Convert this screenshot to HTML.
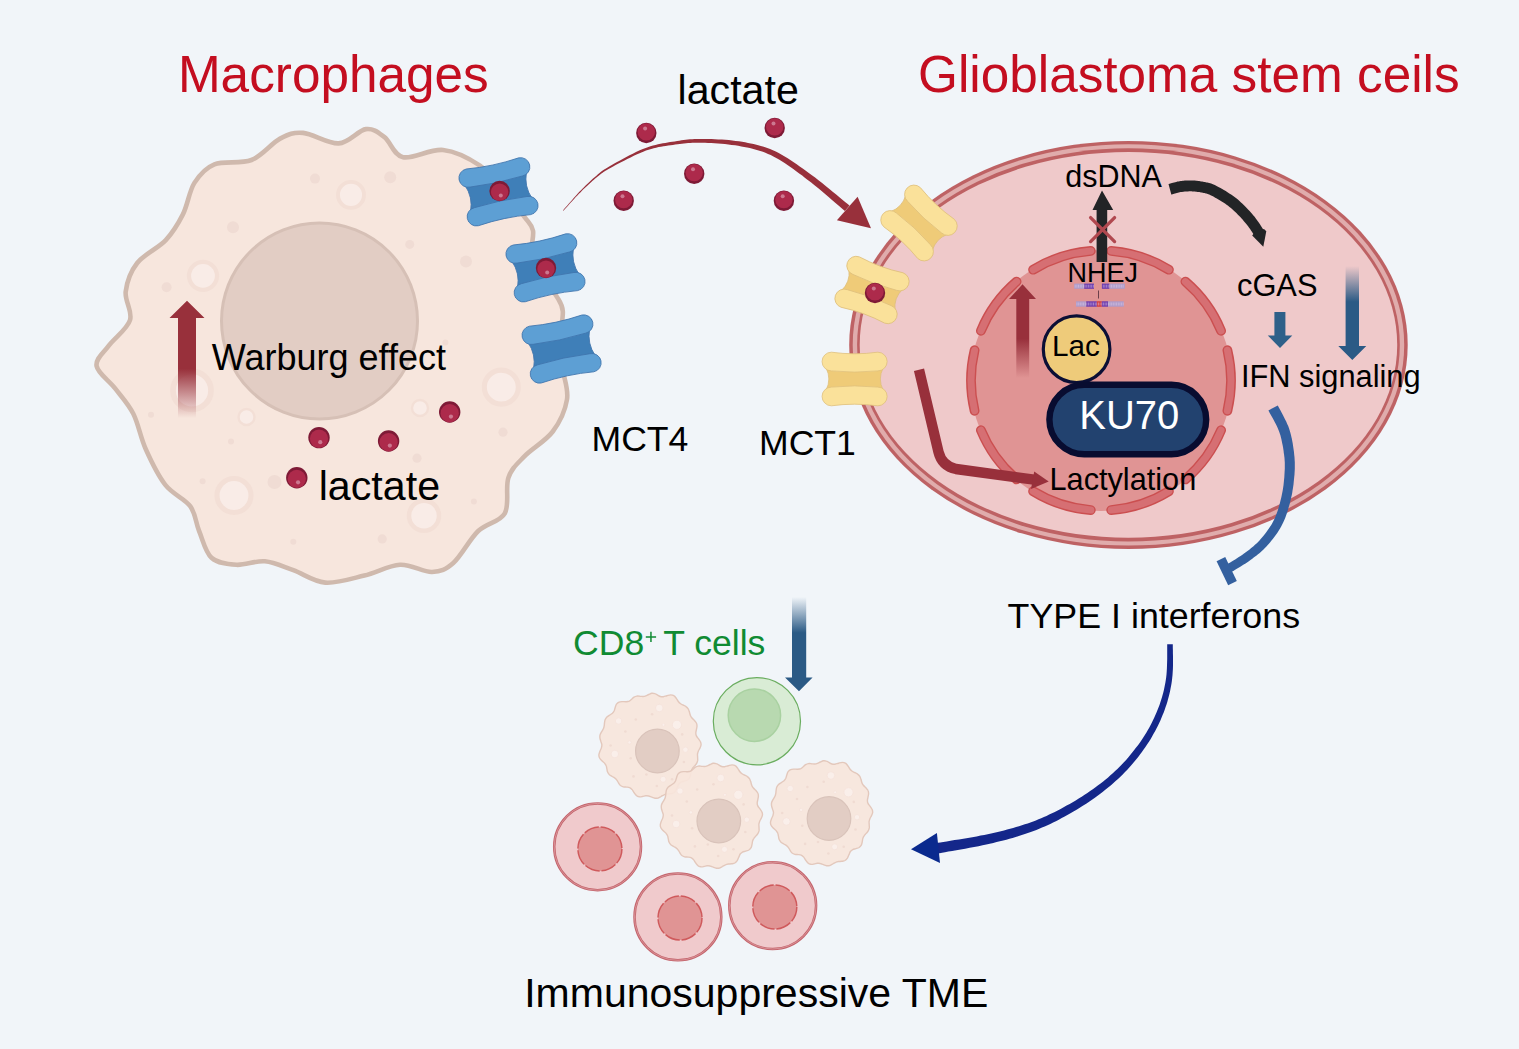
<!DOCTYPE html>
<html><head><meta charset="utf-8"><title>Diagram</title>
<style>
html,body{margin:0;padding:0;background:#f1f5f9;}
body{width:1519px;height:1049px;overflow:hidden;font-family:"Liberation Sans",sans-serif;}
svg{display:block}
svg text{font-family:"Liberation Sans",sans-serif;}
</style></head><body>
<svg width="1519" height="1049" viewBox="0 0 1519 1049">
<rect width="1519" height="1049" fill="#f1f5f9"/>

<defs>
<linearGradient id="gRedUp" x1="0" y1="0" x2="0" y2="1">
<stop offset="0" stop-color="#98303b"/><stop offset="0.58" stop-color="#98303b"/><stop offset="1" stop-color="#98303b" stop-opacity="0"/>
</linearGradient>
<linearGradient id="gBlueDn" x1="0" y1="0" x2="0" y2="1">
<stop offset="0" stop-color="#2b5a85" stop-opacity="0"/><stop offset="0.38" stop-color="#2b5a85"/><stop offset="1" stop-color="#2b5a85"/>
</linearGradient>
</defs>
<path d="M96.6,366.0 C95.4,358.8 103.0,353.5 108.6,345.9 C114.2,338.2 127.2,329.2 130.0,320.1 C132.8,311.1 124.5,301.1 125.7,291.6 C126.9,282.1 130.5,271.6 137.2,263.0 C143.9,254.4 158.2,248.2 165.8,240.1 C173.4,232.0 178.1,223.9 182.9,214.4 C187.7,204.9 189.2,191.2 194.4,182.9 C199.7,174.6 204.9,168.1 214.4,164.3 C223.9,160.5 240.6,164.3 251.5,160.0 C262.4,155.7 271.5,143.1 280.1,138.6 C288.7,134.1 293.2,132.1 303.0,132.9 C312.8,133.7 328.2,144.0 338.7,143.4 C349.2,142.8 358.3,130.1 365.9,129.1 C373.5,128.1 378.3,132.5 384.5,137.2 C390.7,141.9 393.3,155.1 403.1,157.2 C412.9,159.3 430.3,148.6 443.1,150.0 C455.9,151.4 469.7,158.7 480.0,165.7 C490.3,172.7 497.6,183.5 505.0,192.0 C512.4,200.5 519.7,210.5 524.4,216.9 C529.1,223.3 531.7,224.2 533.0,230.6 C534.3,236.9 530.0,246.8 532.0,255.0 C534.0,263.2 540.9,273.1 545.0,280.0 C549.1,286.9 553.6,291.1 556.6,296.3 C559.6,301.5 562.2,303.9 562.8,311.2 C563.4,318.5 560.0,330.2 560.0,340.0 C560.0,349.8 561.8,360.1 563.0,370.0 C564.2,379.9 568.7,389.2 567.0,399.5 C565.3,409.8 559.9,422.0 552.8,431.5 C545.7,441.0 531.8,448.7 524.4,456.4 C517.0,464.1 511.7,468.2 508.4,477.7 C505.1,487.2 509.8,504.4 504.8,513.3 C499.8,522.2 486.8,522.7 478.2,531.0 C469.6,539.3 461.0,556.2 453.3,563.0 C445.6,569.8 440.9,571.7 432.0,572.0 C423.1,572.3 411.3,564.2 400.0,564.8 C388.7,565.4 376.8,572.5 364.4,575.5 C351.9,578.5 337.1,583.5 325.3,582.6 C313.5,581.7 303.4,573.8 293.3,570.2 C283.2,566.7 274.4,562.2 264.9,561.3 C255.4,560.4 245.3,565.4 236.4,564.8 C227.5,564.2 217.7,563.3 211.5,557.7 C205.3,552.1 202.7,539.6 199.1,531.0 C195.5,522.4 195.8,513.9 190.2,506.2 C184.6,498.5 172.7,494.4 165.3,484.9 C157.9,475.4 151.1,461.1 145.8,449.3 C140.5,437.5 138.4,423.9 133.3,413.8 C128.2,403.7 121.6,396.9 115.5,388.9 C109.4,380.9 97.8,373.2 96.6,366.0 Z" fill="#f7e6dd" stroke="#cfb9ad" stroke-width="4.6" stroke-linejoin="round"/>
<circle cx="351.0" cy="194.9" r="13.0" fill="#f9ece7" stroke="#f3dfd6" stroke-width="3.9"/>
<circle cx="203.0" cy="275.8" r="14.0" fill="#f9ece7" stroke="#f3dfd6" stroke-width="4.2"/>
<circle cx="192.0" cy="390.4" r="19.0" fill="#f9ece7" stroke="#f3dfd6" stroke-width="5.7"/>
<circle cx="420.0" cy="408.0" r="8.0" fill="#f9ece7" stroke="#f3dfd6" stroke-width="2.4"/>
<circle cx="246.5" cy="417.0" r="8.0" fill="#f9ece7" stroke="#f3dfd6" stroke-width="2.4"/>
<circle cx="501.3" cy="387.1" r="17.0" fill="#f9ece7" stroke="#f3dfd6" stroke-width="5.1"/>
<circle cx="234.0" cy="495.5" r="17.0" fill="#f9ece7" stroke="#f3dfd6" stroke-width="5.1"/>
<circle cx="424.0" cy="515.8" r="15.0" fill="#f9ece7" stroke="#f3dfd6" stroke-width="4.5"/>
<circle cx="315.0" cy="178.6" r="5.0" fill="#f0dcd4"/>
<circle cx="390.2" cy="177.2" r="6.0" fill="#f0dcd4"/>
<circle cx="233.0" cy="227.2" r="6.0" fill="#f0dcd4"/>
<circle cx="409.7" cy="244.4" r="4.5" fill="#f0dcd4"/>
<circle cx="466.0" cy="261.5" r="6.0" fill="#f0dcd4"/>
<circle cx="166.6" cy="287.3" r="5.0" fill="#f0dcd4"/>
<circle cx="445.4" cy="342.4" r="3.0" fill="#f0dcd4"/>
<circle cx="151.0" cy="414.8" r="3.0" fill="#f0dcd4"/>
<circle cx="231.0" cy="441.5" r="3.0" fill="#f0dcd4"/>
<circle cx="202.6" cy="481.3" r="3.0" fill="#f0dcd4"/>
<circle cx="274.5" cy="482.0" r="7.0" fill="#f0dcd4"/>
<circle cx="417.0" cy="458.2" r="4.6" fill="#f0dcd4"/>
<circle cx="503.0" cy="432.2" r="4.6" fill="#f0dcd4"/>
<circle cx="473.9" cy="501.6" r="3.0" fill="#f0dcd4"/>
<circle cx="382.2" cy="538.9" r="4.6" fill="#f0dcd4"/>
<circle cx="293.3" cy="541.7" r="3.0" fill="#f0dcd4"/>
<circle cx="319.5" cy="321" r="98" fill="#e2cdc4" stroke="#d6c0b6" stroke-width="3"/>
<ellipse cx="1128.45" cy="344.9" rx="279.25" ry="204.0" fill="#be6264"/>
<ellipse cx="1128.45" cy="344.9" rx="275.75" ry="200.7" fill="#e0acac"/>
<ellipse cx="1128.45" cy="344.9" rx="271.35" ry="196.55" fill="#be6264"/>
<ellipse cx="1128.45" cy="344.9" rx="268.75" ry="192.8" fill="#efc9ca"/>
<circle cx="1101" cy="380.5" r="130.5" fill="#e09494"/>
<path d="M1090.8,250.9 A130.0,130.0 0 0 0 1033.1,269.7 M1016.6,281.6 A130.0,130.0 0 0 0 980.9,330.8 M974.6,350.2 A130.0,130.0 0 0 0 974.6,410.8 M980.9,430.2 A130.0,130.0 0 0 0 1016.6,479.4 M1033.1,491.3 A130.0,130.0 0 0 0 1090.8,510.1 M1111.2,510.1 A130.0,130.0 0 0 0 1168.9,491.3 M1185.4,479.4 A130.0,130.0 0 0 0 1221.1,430.2 M1227.4,410.8 A130.0,130.0 0 0 0 1227.4,350.2 M1221.1,330.8 A130.0,130.0 0 0 0 1185.4,281.6 M1168.9,269.7 A130.0,130.0 0 0 0 1111.2,250.9" fill="none" stroke="#cb4f50" stroke-width="9.8" stroke-linecap="round"/>
<path d="M1090.8,250.9 A130.0,130.0 0 0 0 1033.1,269.7 M1016.6,281.6 A130.0,130.0 0 0 0 980.9,330.8 M974.6,350.2 A130.0,130.0 0 0 0 974.6,410.8 M980.9,430.2 A130.0,130.0 0 0 0 1016.6,479.4 M1033.1,491.3 A130.0,130.0 0 0 0 1090.8,510.1 M1111.2,510.1 A130.0,130.0 0 0 0 1168.9,491.3 M1185.4,479.4 A130.0,130.0 0 0 0 1221.1,430.2 M1227.4,410.8 A130.0,130.0 0 0 0 1227.4,350.2 M1221.1,330.8 A130.0,130.0 0 0 0 1185.4,281.6 M1168.9,269.7 A130.0,130.0 0 0 0 1111.2,250.9" fill="none" stroke="#d66f73" stroke-width="7" stroke-linecap="round"/>
<path d="M187,300.7 L204.5,318 L196,318 L196,418 L178,418 L178,318 L169.5,318 Z" fill="url(#gRedUp)"/>
<g transform="translate(449.7,412.0) rotate(180) scale(1.05)"><circle r="10.2" fill="#7e1a36"/><circle cx="0" cy="-1.1" r="8.7" fill="#ad2a4b"/><circle cx="-1.2" cy="-4.4" r="2" fill="#cc7890"/></g>
<g transform="translate(319.0,437.6) rotate(180) scale(1.05)"><circle r="10.2" fill="#7e1a36"/><circle cx="0" cy="-1.1" r="8.7" fill="#ad2a4b"/><circle cx="-1.2" cy="-4.4" r="2" fill="#cc7890"/></g>
<g transform="translate(388.6,441.0) rotate(180) scale(1.05)"><circle r="10.2" fill="#7e1a36"/><circle cx="0" cy="-1.1" r="8.7" fill="#ad2a4b"/><circle cx="-1.2" cy="-4.4" r="2" fill="#cc7890"/></g>
<g transform="translate(296.8,477.7) rotate(180) scale(1.05)"><circle r="10.2" fill="#7e1a36"/><circle cx="0" cy="-1.1" r="8.7" fill="#ad2a4b"/><circle cx="-1.2" cy="-4.4" r="2" fill="#cc7890"/></g>
<g transform="translate(498.5,191.8) rotate(-12.0)"><path d="M-31.5,-13.5 Q-26.0,0 -31.5,13.5 L31.5,13.5 Q26.0,0 31.5,-13.5 Z" fill="#3f7fb8" stroke="#3f74ad" stroke-width="0.8"/><path d="M-26.8,-29.0 Q0,-25.8 26.8,-29.0 A9.2,9.2 0 0 1 26.8,-10.5 Q0,-8.1 -26.8,-10.5 A9.2,9.2 0 0 1 -26.8,-29.0 Z" fill="#5d9fd4" stroke="#3f74ad" stroke-width="0.8"/><path d="M-26.8,29.0 Q0,25.8 26.8,29.0 A9.2,9.2 0 0 0 26.8,10.5 Q0,8.1 -26.8,10.5 A9.2,9.2 0 0 0 -26.8,29.0 Z" fill="#5d9fd4" stroke="#3f74ad" stroke-width="0.8"/></g>
<g transform="translate(545.5,267.8) rotate(-12.0)"><path d="M-31.5,-13.5 Q-26.0,0 -31.5,13.5 L31.5,13.5 Q26.0,0 31.5,-13.5 Z" fill="#3f7fb8" stroke="#3f74ad" stroke-width="0.8"/><path d="M-26.8,-29.0 Q0,-25.8 26.8,-29.0 A9.2,9.2 0 0 1 26.8,-10.5 Q0,-8.1 -26.8,-10.5 A9.2,9.2 0 0 1 -26.8,-29.0 Z" fill="#5d9fd4" stroke="#3f74ad" stroke-width="0.8"/><path d="M-26.8,29.0 Q0,25.8 26.8,29.0 A9.2,9.2 0 0 0 26.8,10.5 Q0,8.1 -26.8,10.5 A9.2,9.2 0 0 0 -26.8,29.0 Z" fill="#5d9fd4" stroke="#3f74ad" stroke-width="0.8"/></g>
<g transform="translate(561.6,349.0) rotate(-12.0)"><path d="M-31.5,-13.5 Q-26.0,0 -31.5,13.5 L31.5,13.5 Q26.0,0 31.5,-13.5 Z" fill="#3f7fb8" stroke="#3f74ad" stroke-width="0.8"/><path d="M-26.8,-29.0 Q0,-25.8 26.8,-29.0 A9.2,9.2 0 0 1 26.8,-10.5 Q0,-8.1 -26.8,-10.5 A9.2,9.2 0 0 1 -26.8,-29.0 Z" fill="#5d9fd4" stroke="#3f74ad" stroke-width="0.8"/><path d="M-26.8,29.0 Q0,25.8 26.8,29.0 A9.2,9.2 0 0 0 26.8,10.5 Q0,8.1 -26.8,10.5 A9.2,9.2 0 0 0 -26.8,29.0 Z" fill="#5d9fd4" stroke="#3f74ad" stroke-width="0.8"/></g>
<g transform="translate(499.6,191.0) rotate(180) scale(1.00)"><circle r="10.2" fill="#7e1a36"/><circle cx="0" cy="-1.1" r="8.7" fill="#ad2a4b"/><circle cx="-1.2" cy="-4.4" r="2" fill="#cc7890"/></g>
<g transform="translate(546.0,268.0) rotate(180) scale(1.00)"><circle r="10.2" fill="#7e1a36"/><circle cx="0" cy="-1.1" r="8.7" fill="#ad2a4b"/><circle cx="-1.2" cy="-4.4" r="2" fill="#cc7890"/></g>
<g transform="translate(919.0,223.0) rotate(43.0)"><path d="M-28.5,-11.1 Q-23.0,0 -28.5,11.1 L28.5,11.1 Q23.0,0 28.5,-11.1 Z" fill="#efcb78" stroke="#dfc07c" stroke-width="0.8"/><path d="M-23.2,-26.8 Q0,-23.6 23.2,-26.8 A9.3,9.3 0 0 1 23.2,-8.1 Q0,-5.7 -23.2,-8.1 A9.3,9.3 0 0 1 -23.2,-26.8 Z" fill="#fae19a" stroke="#dfc07c" stroke-width="0.8"/><path d="M-23.2,26.8 Q0,23.6 23.2,26.8 A9.3,9.3 0 0 0 23.2,8.1 Q0,5.7 -23.2,8.1 A9.3,9.3 0 0 0 -23.2,26.8 Z" fill="#fae19a" stroke="#dfc07c" stroke-width="0.8"/></g>
<g transform="translate(872.0,290.0) rotate(20.0)"><path d="M-28.5,-11.1 Q-23.0,0 -28.5,11.1 L28.5,11.1 Q23.0,0 28.5,-11.1 Z" fill="#efcb78" stroke="#dfc07c" stroke-width="0.8"/><path d="M-23.2,-26.8 Q0,-23.6 23.2,-26.8 A9.3,9.3 0 0 1 23.2,-8.1 Q0,-5.7 -23.2,-8.1 A9.3,9.3 0 0 1 -23.2,-26.8 Z" fill="#fae19a" stroke="#dfc07c" stroke-width="0.8"/><path d="M-23.2,26.8 Q0,23.6 23.2,26.8 A9.3,9.3 0 0 0 23.2,8.1 Q0,5.7 -23.2,8.1 A9.3,9.3 0 0 0 -23.2,26.8 Z" fill="#fae19a" stroke="#dfc07c" stroke-width="0.8"/></g>
<g transform="translate(854.6,379.0) rotate(0.0)"><path d="M-28.5,-11.1 Q-23.0,0 -28.5,11.1 L28.5,11.1 Q23.0,0 28.5,-11.1 Z" fill="#efcb78" stroke="#dfc07c" stroke-width="0.8"/><path d="M-23.2,-26.8 Q0,-23.6 23.2,-26.8 A9.3,9.3 0 0 1 23.2,-8.1 Q0,-5.7 -23.2,-8.1 A9.3,9.3 0 0 1 -23.2,-26.8 Z" fill="#fae19a" stroke="#dfc07c" stroke-width="0.8"/><path d="M-23.2,26.8 Q0,23.6 23.2,26.8 A9.3,9.3 0 0 0 23.2,8.1 Q0,5.7 -23.2,8.1 A9.3,9.3 0 0 0 -23.2,26.8 Z" fill="#fae19a" stroke="#dfc07c" stroke-width="0.8"/></g>
<g transform="translate(875.0,293.0) rotate(0) scale(1.00)"><circle r="10.2" fill="#7e1a36"/><circle cx="0" cy="-1.1" r="8.7" fill="#ad2a4b"/><circle cx="-1.2" cy="-4.4" r="2" fill="#cc7890"/></g>
<g transform="translate(646.3,133.0) rotate(0) scale(1.00)"><circle r="10.2" fill="#7e1a36"/><circle cx="0" cy="-1.1" r="8.7" fill="#ad2a4b"/><circle cx="-1.2" cy="-4.4" r="2" fill="#cc7890"/></g>
<g transform="translate(774.7,128.0) rotate(0) scale(1.00)"><circle r="10.2" fill="#7e1a36"/><circle cx="0" cy="-1.1" r="8.7" fill="#ad2a4b"/><circle cx="-1.2" cy="-4.4" r="2" fill="#cc7890"/></g>
<g transform="translate(694.2,173.7) rotate(0) scale(1.00)"><circle r="10.2" fill="#7e1a36"/><circle cx="0" cy="-1.1" r="8.7" fill="#ad2a4b"/><circle cx="-1.2" cy="-4.4" r="2" fill="#cc7890"/></g>
<g transform="translate(623.7,200.7) rotate(0) scale(1.00)"><circle r="10.2" fill="#7e1a36"/><circle cx="0" cy="-1.1" r="8.7" fill="#ad2a4b"/><circle cx="-1.2" cy="-4.4" r="2" fill="#cc7890"/></g>
<g transform="translate(783.9,200.7) rotate(0) scale(1.00)"><circle r="10.2" fill="#7e1a36"/><circle cx="0" cy="-1.1" r="8.7" fill="#ad2a4b"/><circle cx="-1.2" cy="-4.4" r="2" fill="#cc7890"/></g>
<path d="M563.3,210.8 L564.1,209.9 L565.2,208.7 L566.4,207.4 L567.8,205.9 L569.2,204.2 L570.8,202.5 L572.5,200.7 L574.1,198.9 L575.8,197.1 L577.4,195.4 L578.9,193.8 L580.4,192.4 L581.7,191.0 L583.1,189.6 L584.5,188.3 L585.9,187.0 L587.3,185.7 L588.6,184.4 L590.0,183.2 L591.3,182.0 L592.6,180.8 L593.9,179.7 L595.2,178.6 L596.5,177.6 L597.7,176.6 L598.7,175.7 L599.6,174.9 L600.5,174.2 L601.4,173.5 L602.3,172.9 L603.2,172.2 L604.3,171.5 L605.5,170.7 L606.9,169.9 L608.5,169.0 L610.4,167.9 L612.7,166.7 L615.2,165.3 L618.0,163.8 L621.0,162.3 L624.1,160.7 L627.3,159.0 L630.6,157.4 L633.8,155.8 L637.1,154.3 L640.2,152.9 L643.2,151.7 L646.0,150.6 L648.6,149.7 L651.2,148.9 L653.7,148.3 L656.2,147.7 L658.6,147.1 L661.0,146.7 L663.4,146.3 L665.8,145.9 L668.2,145.6 L670.5,145.3 L672.9,144.9 L675.2,144.6 L677.6,144.3 L679.8,144.0 L681.9,143.7 L684.0,143.5 L686.1,143.2 L688.1,143.0 L690.2,142.9 L692.4,142.8 L694.7,142.7 L697.0,142.7 L699.5,142.7 L702.2,142.7 L705.0,142.8 L708.1,142.9 L711.3,143.1 L714.6,143.3 L718.0,143.5 L721.4,143.8 L724.9,144.1 L728.3,144.5 L731.7,144.9 L735.1,145.3 L738.2,145.8 L741.3,146.4 L744.2,147.0 L747.1,147.5 L749.8,148.1 L752.5,148.8 L755.1,149.4 L757.7,150.2 L760.3,151.0 L762.9,151.8 L765.4,152.8 L768.0,153.9 L770.7,155.1 L773.4,156.4 L776.2,157.9 L779.0,159.4 L781.8,161.2 L784.6,163.0 L787.5,164.9 L790.4,166.9 L793.3,169.0 L796.2,171.2 L799.2,173.4 L802.2,175.6 L805.1,177.9 L808.1,180.2 L811.2,182.6 L814.5,185.3 L818.0,188.1 L821.6,191.1 L825.1,194.1 L828.6,197.1 L832.0,200.0 L835.2,202.8 L838.2,205.3 L840.8,207.6 L843.1,209.5 L844.9,211.1 L849.5,205.5 L847.7,204.1 L845.4,202.2 L842.7,200.0 L839.7,197.5 L836.5,194.8 L833.0,191.9 L829.4,188.9 L825.7,186.0 L822.1,183.1 L818.5,180.3 L815.1,177.6 L811.9,175.2 L808.8,173.0 L805.8,170.8 L802.7,168.6 L799.7,166.4 L796.7,164.3 L793.7,162.2 L790.7,160.2 L787.7,158.3 L784.7,156.4 L781.7,154.7 L778.7,153.1 L775.8,151.6 L772.9,150.3 L770.1,149.1 L767.3,148.0 L764.5,147.0 L761.8,146.2 L759.1,145.4 L756.4,144.7 L753.6,144.0 L750.8,143.4 L748.0,142.9 L745.1,142.3 L742.1,141.8 L739.0,141.3 L735.7,140.9 L732.3,140.5 L728.8,140.1 L725.3,139.8 L721.8,139.6 L718.3,139.4 L714.8,139.2 L711.5,139.1 L708.2,139.0 L705.1,138.9 L702.2,138.9 L699.5,138.9 L696.9,138.9 L694.5,139.0 L692.2,139.2 L690.0,139.3 L687.8,139.5 L685.7,139.8 L683.6,140.0 L681.4,140.3 L679.3,140.7 L677.1,141.0 L674.8,141.4 L672.4,141.8 L670.1,142.1 L667.7,142.5 L665.3,142.9 L662.9,143.3 L660.5,143.8 L658.0,144.3 L655.5,144.9 L653.0,145.6 L650.4,146.3 L647.7,147.2 L645.0,148.2 L642.2,149.3 L639.2,150.6 L636.0,152.1 L632.8,153.7 L629.5,155.3 L626.3,157.0 L623.1,158.8 L620.0,160.4 L617.0,162.1 L614.3,163.6 L611.8,165.0 L609.6,166.3 L607.6,167.4 L606.0,168.4 L604.6,169.3 L603.4,170.1 L602.3,170.8 L601.3,171.6 L600.4,172.3 L599.5,173.0 L598.6,173.8 L597.7,174.6 L596.7,175.4 L595.5,176.4 L594.3,177.5 L593.0,178.6 L591.7,179.8 L590.4,181.0 L589.1,182.2 L587.8,183.5 L586.4,184.8 L585.1,186.1 L583.7,187.5 L582.4,188.8 L581.0,190.2 L579.6,191.6 L578.2,193.1 L576.7,194.8 L575.1,196.5 L573.5,198.3 L571.9,200.2 L570.3,202.0 L568.7,203.8 L567.3,205.4 L565.9,207.0 L564.7,208.3 L563.7,209.5 L562.9,210.4 Z" fill="#98303b"/>
<path d="M871,228.3 L857.6,196.8 L836.9,220.3 Z" fill="#98303b"/>
<path d="M919,369.8 L938.5,452 Q942,466 956,469 L1034,479.7" fill="none" stroke="#98303b" stroke-width="10.4"/>
<path d="M1048.7,481.5 L1034.2,471.5 L1031,489 Z" fill="#98303b"/>
<path d="M1022.5,284.3 L1036,299 L1029.2,299 L1029.2,378 L1016.3,378 L1016.3,299 L1009,299 Z" fill="url(#gRedUp)"/>
<path d="M1102,190.6 L1113.2,210 L1107.2,210 L1107.2,262 L1096.6,262 L1096.6,210 L1092.5,210 Z" fill="#222426"/>
<path d="M1090.6,217.6 L1114.6,241.6 M1114.6,217.6 L1090.6,241.6" stroke="#b0484f" stroke-width="3.3" stroke-linecap="round" fill="none"/>
<path d="M1171.3,194.6 L1171.9,194.4 L1172.5,194.2 L1173.3,194.0 L1174.1,193.8 L1175.0,193.5 L1176.0,193.2 L1176.9,193.0 L1177.9,192.7 L1178.8,192.5 L1179.7,192.3 L1180.6,192.1 L1181.4,192.0 L1182.2,191.9 L1183.0,191.8 L1183.8,191.7 L1184.7,191.6 L1185.5,191.5 L1186.4,191.4 L1187.3,191.4 L1188.1,191.4 L1189.0,191.3 L1189.8,191.3 L1190.7,191.3 L1191.5,191.3 L1192.4,191.4 L1193.2,191.4 L1194.1,191.5 L1195.0,191.6 L1195.8,191.7 L1196.7,191.8 L1197.6,191.9 L1198.4,192.0 L1199.3,192.1 L1200.2,192.3 L1201.0,192.5 L1201.9,192.6 L1202.8,192.8 L1203.7,193.0 L1204.5,193.1 L1205.2,193.3 L1205.8,193.4 L1206.4,193.6 L1207.0,193.7 L1207.7,193.9 L1208.4,194.2 L1209.2,194.5 L1210.1,194.9 L1211.1,195.5 L1212.4,196.1 L1213.8,196.8 L1215.2,197.7 L1216.8,198.5 L1218.4,199.5 L1220.1,200.5 L1221.7,201.5 L1223.4,202.5 L1225.0,203.6 L1226.6,204.7 L1228.1,205.8 L1229.5,206.9 L1230.9,208.0 L1232.3,209.2 L1233.6,210.4 L1235.0,211.7 L1236.4,213.0 L1237.7,214.4 L1239.0,215.7 L1240.3,217.1 L1241.6,218.5 L1242.8,219.8 L1243.9,221.2 L1245.0,222.4 L1246.1,223.7 L1247.1,225.0 L1248.1,226.3 L1249.1,227.7 L1250.1,229.1 L1251.0,230.5 L1251.9,231.8 L1252.7,233.1 L1253.5,234.3 L1254.1,235.3 L1254.8,236.3 L1255.3,237.1 L1264.3,230.9 L1263.8,230.2 L1263.3,229.4 L1262.6,228.4 L1261.8,227.2 L1261.0,225.9 L1260.1,224.4 L1259.1,223.0 L1258.0,221.4 L1256.9,219.9 L1255.8,218.4 L1254.6,216.8 L1253.4,215.4 L1252.2,214.0 L1250.9,212.6 L1249.6,211.1 L1248.3,209.7 L1246.9,208.2 L1245.5,206.7 L1244.0,205.3 L1242.5,203.8 L1241.0,202.4 L1239.5,201.0 L1237.9,199.6 L1236.3,198.3 L1234.6,197.1 L1232.9,195.8 L1231.1,194.6 L1229.3,193.4 L1227.5,192.2 L1225.7,191.1 L1223.9,190.1 L1222.2,189.1 L1220.5,188.1 L1218.9,187.3 L1217.5,186.5 L1216.1,185.7 L1214.8,185.1 L1213.5,184.5 L1212.3,184.0 L1211.2,183.6 L1210.2,183.3 L1209.2,183.0 L1208.2,182.8 L1207.4,182.6 L1206.5,182.4 L1205.7,182.3 L1204.9,182.1 L1204.1,182.0 L1203.1,181.8 L1202.1,181.6 L1201.1,181.4 L1200.1,181.2 L1199.1,181.1 L1198.1,180.9 L1197.0,180.8 L1196.0,180.7 L1195.0,180.6 L1193.9,180.6 L1192.9,180.5 L1191.9,180.5 L1190.8,180.4 L1189.8,180.4 L1188.8,180.4 L1187.8,180.5 L1186.7,180.5 L1185.7,180.6 L1184.7,180.6 L1183.7,180.7 L1182.7,180.8 L1181.7,180.9 L1180.7,181.1 L1179.6,181.2 L1178.5,181.4 L1177.4,181.6 L1176.3,181.9 L1175.2,182.2 L1174.1,182.5 L1173.0,182.7 L1172.0,183.0 L1171.1,183.3 L1170.3,183.5 L1169.5,183.7 L1169.0,183.9 L1168.5,184.0 Z" fill="#222426"/>
<path d="M1263.3,246.8 L1252.2,235.4 L1255,232 L1264,229 L1266.3,231.3 Z" fill="#222426"/>
<path d="M1274.4,312 L1285.4,312 L1285.4,335.4 L1292.3,335.4 L1280,348 L1267.8,335.4 L1274.4,335.4 Z" fill="#2e6089"/>
<path d="M1345.6,266 L1359,266 L1359,346.1 L1366.3,346.1 L1352.3,360.1 L1338.3,346.1 L1345.6,346.1 Z" fill="url(#gBlueDn)"/>
<g><rect x="1074.2" y="283.6" width="10.0" height="5.2" fill="#ae9bca"/><rect x="1084.2" y="283.6" width="9.8" height="5.2" fill="#6a3aae"/><rect x="1101.9" y="283.6" width="7.6" height="5.2" fill="#6a3aae"/><rect x="1109.5" y="283.6" width="15.4" height="5.2" fill="#ae9bca"/><rect x="1076.0" y="301.3" width="10.2" height="5.4" fill="#ae9bca"/><rect x="1086.2" y="301.3" width="10.6" height="5.4" fill="#6a3aae"/><rect x="1096.8" y="301.3" width="5.0" height="5.4" fill="#d2383a"/><rect x="1101.8" y="301.3" width="6.2" height="5.4" fill="#6a3aae"/><rect x="1108.0" y="301.3" width="15.8" height="5.4" fill="#ae9bca"/><path d="M1075.2,284.7 v3 M1076.9,284.7 v3 M1078.5,284.7 v3 M1080.2,284.7 v3 M1081.8,284.7 v3 M1083.5,284.7 v3 M1085.1,284.7 v3 M1086.8,284.7 v3 M1088.4,284.7 v3 M1090.1,284.7 v3 M1091.7,284.7 v3 M1093.4,284.7 v3 M1103.3,284.7 v3 M1104.9,284.7 v3 M1106.6,284.7 v3 M1108.2,284.7 v3 M1109.9,284.7 v3 M1111.5,284.7 v3 M1113.2,284.7 v3 M1114.8,284.7 v3 M1116.5,284.7 v3 M1118.1,284.7 v3 M1119.8,284.7 v3 M1121.4,284.7 v3 M1123.1,284.7 v3 M1077.0,302.5 v3 M1078.7,302.5 v3 M1080.3,302.5 v3 M1082.0,302.5 v3 M1083.6,302.5 v3 M1085.3,302.5 v3 M1086.9,302.5 v3 M1088.6,302.5 v3 M1090.2,302.5 v3 M1091.9,302.5 v3 M1093.5,302.5 v3 M1095.2,302.5 v3 M1096.8,302.5 v3 M1098.5,302.5 v3 M1100.1,302.5 v3 M1101.8,302.5 v3 M1103.4,302.5 v3 M1105.1,302.5 v3 M1106.7,302.5 v3 M1108.4,302.5 v3 M1110.0,302.5 v3 M1111.7,302.5 v3 M1113.3,302.5 v3 M1115.0,302.5 v3 M1116.6,302.5 v3 M1118.3,302.5 v3 M1119.9,302.5 v3 M1121.6,302.5 v3 M1123.2,302.5 v3" stroke="#e3cfe6" stroke-width="0.7" stroke-opacity="0.7" fill="none"/><path d="M1098.5,290.5 L1098.5,298.5" stroke="#3a1a2a" stroke-width="0.7"/></g>
<circle cx="1076.6" cy="349.2" r="33.3" fill="#eecb7a" stroke="#0b0f35" stroke-width="3.2"/>
<rect x="1049.4" y="384.7" width="156.8" height="69.6" rx="34.8" fill="#22426f" stroke="#080c30" stroke-width="6.4"/>
<path d="M1268.4,410.4 L1269.0,411.6 L1269.7,412.9 L1270.6,414.5 L1271.6,416.2 L1272.6,418.0 L1273.7,420.0 L1274.7,422.0 L1275.8,424.0 L1276.8,426.1 L1277.7,428.1 L1278.5,429.9 L1279.2,431.7 L1279.8,433.5 L1280.4,435.3 L1280.9,437.3 L1281.4,439.2 L1281.8,441.2 L1282.2,443.2 L1282.6,445.1 L1283.0,447.1 L1283.3,449.1 L1283.6,451.0 L1283.8,452.9 L1284.1,454.7 L1284.3,456.4 L1284.5,458.1 L1284.6,459.7 L1284.7,461.2 L1284.8,462.7 L1284.8,464.2 L1284.8,465.7 L1284.8,467.2 L1284.8,468.7 L1284.7,470.3 L1284.6,472.0 L1284.5,473.8 L1284.4,475.6 L1284.3,477.4 L1284.1,479.3 L1283.9,481.3 L1283.7,483.2 L1283.5,485.2 L1283.2,487.2 L1282.9,489.2 L1282.6,491.1 L1282.2,493.1 L1281.8,495.1 L1281.4,497.0 L1280.9,499.0 L1280.4,501.0 L1279.9,503.0 L1279.4,505.0 L1278.8,507.0 L1278.2,508.9 L1277.6,510.9 L1276.9,512.8 L1276.2,514.7 L1275.5,516.6 L1274.7,518.4 L1273.9,520.1 L1273.0,521.8 L1272.1,523.5 L1271.1,525.2 L1270.0,526.8 L1268.9,528.5 L1267.8,530.1 L1266.6,531.7 L1265.5,533.3 L1264.3,534.8 L1263.1,536.3 L1261.8,537.7 L1260.7,539.1 L1259.5,540.4 L1258.3,541.7 L1257.1,542.9 L1255.9,544.0 L1254.7,545.1 L1253.5,546.2 L1252.2,547.3 L1250.9,548.3 L1249.6,549.4 L1248.2,550.4 L1246.8,551.5 L1245.4,552.6 L1244.0,553.6 L1242.4,554.8 L1240.6,555.9 L1238.8,557.1 L1237.0,558.3 L1235.2,559.4 L1233.4,560.5 L1231.8,561.5 L1230.2,562.5 L1228.8,563.3 L1227.6,564.1 L1226.7,564.7 L1231.3,572.1 L1232.2,571.6 L1233.4,570.9 L1234.8,570.0 L1236.4,569.1 L1238.1,568.1 L1239.9,567.0 L1241.8,565.8 L1243.7,564.6 L1245.6,563.4 L1247.4,562.2 L1249.2,561.0 L1250.8,559.8 L1252.3,558.7 L1253.7,557.6 L1255.1,556.5 L1256.6,555.4 L1258.0,554.3 L1259.4,553.2 L1260.8,552.0 L1262.1,550.7 L1263.5,549.5 L1264.9,548.1 L1266.2,546.7 L1267.5,545.3 L1268.9,543.8 L1270.2,542.2 L1271.5,540.6 L1272.8,539.0 L1274.1,537.3 L1275.4,535.5 L1276.7,533.8 L1277.9,531.9 L1279.1,530.1 L1280.2,528.2 L1281.3,526.3 L1282.3,524.3 L1283.3,522.3 L1284.2,520.3 L1285.1,518.2 L1285.9,516.1 L1286.6,514.0 L1287.3,511.9 L1288.0,509.7 L1288.6,507.6 L1289.2,505.5 L1289.8,503.4 L1290.3,501.3 L1290.8,499.2 L1291.3,497.1 L1291.8,495.0 L1292.2,492.9 L1292.5,490.7 L1292.9,488.6 L1293.2,486.5 L1293.5,484.4 L1293.7,482.3 L1293.9,480.3 L1294.1,478.3 L1294.3,476.3 L1294.5,474.4 L1294.6,472.6 L1294.7,470.8 L1294.8,469.1 L1294.8,467.4 L1294.8,465.7 L1294.8,464.0 L1294.8,462.3 L1294.7,460.7 L1294.6,458.9 L1294.5,457.2 L1294.3,455.4 L1294.1,453.5 L1293.9,451.6 L1293.6,449.6 L1293.3,447.6 L1293.0,445.5 L1292.7,443.3 L1292.3,441.2 L1291.9,439.0 L1291.4,436.9 L1290.9,434.7 L1290.3,432.5 L1289.7,430.4 L1289.0,428.3 L1288.2,426.1 L1287.2,423.9 L1286.2,421.6 L1285.1,419.4 L1284.0,417.2 L1282.9,415.0 L1281.8,413.0 L1280.8,411.1 L1279.8,409.3 L1279.0,407.8 L1278.3,406.6 L1277.8,405.6 Z" fill="#34609f"/>
<path d="M1220.9,559.2 L1232.5,583.2" stroke="#34609f" stroke-width="9.6" fill="none"/>
<path d="M1167.2,644.3 L1167.2,645.9 L1167.2,648.0 L1167.2,650.4 L1167.2,653.1 L1167.2,656.0 L1167.2,659.1 L1167.1,662.2 L1167.0,665.4 L1166.9,668.6 L1166.7,671.7 L1166.5,674.6 L1166.2,677.3 L1165.8,679.9 L1165.4,682.5 L1164.9,685.0 L1164.4,687.6 L1163.9,690.1 L1163.3,692.6 L1162.6,695.0 L1161.9,697.5 L1161.1,700.0 L1160.3,702.5 L1159.5,705.0 L1158.5,707.5 L1157.5,710.0 L1156.5,712.5 L1155.4,715.1 L1154.3,717.6 L1153.1,720.1 L1151.8,722.7 L1150.5,725.2 L1149.2,727.7 L1147.7,730.2 L1146.3,732.7 L1144.7,735.2 L1143.1,737.7 L1141.5,740.2 L1139.8,742.7 L1138.0,745.2 L1136.1,747.6 L1134.2,750.1 L1132.2,752.6 L1130.2,755.0 L1128.2,757.5 L1126.1,759.9 L1123.9,762.2 L1121.8,764.5 L1119.6,766.7 L1117.4,768.9 L1115.1,771.1 L1112.8,773.2 L1110.4,775.3 L1108.1,777.4 L1105.6,779.4 L1103.2,781.4 L1100.6,783.4 L1098.1,785.3 L1095.5,787.3 L1092.8,789.2 L1090.1,791.1 L1087.4,793.0 L1084.6,794.8 L1081.7,796.7 L1078.7,798.5 L1075.7,800.4 L1072.7,802.2 L1069.7,803.9 L1066.6,805.6 L1063.6,807.3 L1060.6,808.9 L1057.7,810.4 L1054.8,811.9 L1052.0,813.3 L1049.2,814.6 L1046.5,815.9 L1043.9,817.1 L1041.2,818.2 L1038.5,819.3 L1035.9,820.4 L1033.2,821.4 L1030.4,822.4 L1027.7,823.4 L1024.8,824.3 L1021.9,825.3 L1019.0,826.2 L1016.1,827.1 L1013.1,828.0 L1010.1,828.8 L1007.1,829.6 L1004.0,830.4 L1000.9,831.2 L997.7,832.0 L994.4,832.7 L991.1,833.4 L987.7,834.2 L984.3,834.9 L980.6,835.6 L976.6,836.4 L972.3,837.2 L967.9,837.9 L963.4,838.7 L959.0,839.4 L954.6,840.1 L950.5,840.8 L946.7,841.4 L943.3,841.9 L940.3,842.4 L937.9,842.8 L936.1,843.1 L934.8,843.3 L934.0,843.5 L933.6,843.6 L933.5,843.6 L935.4,854.0 L935.7,853.9 L936.0,853.9 L936.4,853.8 L936.7,853.8 L936.9,853.7 L936.9,853.7 L935.1,843.3 L935.1,843.3 L934.9,843.3 L934.5,843.4 L934.2,843.4 L933.8,843.5 L933.6,843.6 L935.3,854.0 L935.5,854.0 L935.9,853.9 L936.7,853.7 L938.0,853.5 L939.7,853.2 L942.1,852.8 L945.0,852.2 L948.4,851.6 L952.2,851.0 L956.4,850.2 L960.7,849.5 L965.2,848.7 L969.7,847.8 L974.1,847.0 L978.5,846.2 L982.6,845.3 L986.3,844.5 L989.8,843.7 L993.3,842.9 L996.6,842.1 L999.9,841.3 L1003.2,840.5 L1006.4,839.7 L1009.5,838.8 L1012.6,837.9 L1015.7,837.0 L1018.8,836.1 L1021.8,835.1 L1024.9,834.1 L1027.8,833.1 L1030.8,832.0 L1033.6,831.0 L1036.4,829.9 L1039.2,828.8 L1042.0,827.6 L1044.7,826.4 L1047.5,825.2 L1050.3,823.9 L1053.1,822.6 L1055.9,821.2 L1058.8,819.7 L1061.7,818.1 L1064.7,816.5 L1067.8,814.8 L1070.9,813.1 L1073.9,811.3 L1077.0,809.4 L1080.1,807.5 L1083.2,805.6 L1086.2,803.7 L1089.1,801.7 L1092.0,799.7 L1094.9,797.7 L1097.6,795.7 L1100.3,793.7 L1102.9,791.7 L1105.6,789.6 L1108.1,787.6 L1110.7,785.4 L1113.2,783.3 L1115.6,781.1 L1118.0,778.9 L1120.4,776.7 L1122.7,774.4 L1125.0,772.1 L1127.3,769.7 L1129.5,767.2 L1131.7,764.8 L1133.8,762.3 L1135.9,759.7 L1138.0,757.2 L1140.0,754.6 L1141.9,752.0 L1143.8,749.3 L1145.6,746.7 L1147.4,744.1 L1149.1,741.5 L1150.7,738.9 L1152.2,736.3 L1153.7,733.6 L1155.2,731.0 L1156.6,728.3 L1157.9,725.7 L1159.2,723.0 L1160.4,720.4 L1161.5,717.7 L1162.6,715.0 L1163.7,712.4 L1164.7,709.7 L1165.6,707.1 L1166.5,704.5 L1167.3,701.9 L1168.0,699.3 L1168.7,696.7 L1169.4,694.0 L1170.0,691.4 L1170.5,688.8 L1171.0,686.2 L1171.5,683.5 L1171.9,680.8 L1172.2,678.1 L1172.5,675.2 L1172.7,672.1 L1172.9,668.9 L1173.0,665.6 L1173.0,662.3 L1173.0,659.1 L1173.0,656.0 L1172.9,653.0 L1172.9,650.3 L1172.8,647.9 L1172.8,645.9 L1172.8,644.3 Z" fill="#14278a"/>
<path d="M911,849.2 L936.9,833 L940,863 Z" fill="#0a2a8e"/>
<path d="M792,597 L806.2,597 L806.2,677.4 L812.6,677.4 L799,691.2 L785,677.4 L792,677.4 Z" fill="url(#gBlueDn)"/>
<path d="M701.1,744.8 C701.0,745.9 700.5,747.0 700.0,748.0 C699.6,749.0 698.8,750.0 698.4,751.0 C698.0,752.0 697.7,752.9 697.5,754.0 C697.4,755.0 697.6,756.1 697.6,757.1 C697.6,758.2 697.8,759.4 697.7,760.4 C697.5,761.5 697.2,762.5 696.6,763.4 C696.1,764.3 695.3,765.1 694.6,765.9 C693.9,766.7 693.0,767.4 692.5,768.3 C691.9,769.1 691.5,770.0 691.2,771.1 C690.9,772.1 690.9,773.3 690.6,774.4 C690.4,775.5 690.2,776.7 689.7,777.7 C689.1,778.6 688.4,779.4 687.5,780.0 C686.6,780.5 685.3,780.8 684.3,781.1 C683.2,781.5 682.0,781.6 681.1,782.1 C680.2,782.6 679.5,783.2 678.8,784.0 C678.2,784.9 677.9,786.1 677.4,787.2 C676.8,788.3 676.4,789.7 675.8,790.6 C675.1,791.6 674.3,792.4 673.4,793.0 C672.5,793.5 671.3,793.6 670.2,793.8 C669.2,794.0 668.0,793.9 667.0,794.0 C665.9,794.2 664.9,794.4 664.0,794.8 C663.0,795.2 662.1,795.9 661.1,796.5 C660.2,797.0 659.2,797.7 658.2,798.0 C657.1,798.2 656.0,798.3 655.0,798.2 C653.9,798.0 652.8,797.5 651.8,797.1 C650.7,796.8 649.7,796.2 648.7,796.0 C647.7,795.7 646.7,795.7 645.6,795.8 C644.6,795.9 643.5,796.4 642.4,796.5 C641.4,796.7 640.2,797.0 639.2,796.8 C638.2,796.6 637.2,796.2 636.3,795.4 C635.4,794.7 634.7,793.5 634.0,792.5 C633.2,791.5 632.7,790.2 632.0,789.4 C631.2,788.6 630.5,788.0 629.6,787.6 C628.7,787.2 627.6,787.2 626.6,787.1 C625.5,787.0 624.3,787.1 623.3,786.8 C622.3,786.5 621.3,786.1 620.5,785.5 C619.7,784.8 619.2,783.9 618.6,783.0 C618.0,782.1 617.6,781.1 617.0,780.3 C616.4,779.5 615.7,778.7 614.9,778.1 C614.1,777.5 613.0,777.1 612.1,776.5 C611.2,775.9 610.1,775.4 609.4,774.7 C608.6,774.0 608.0,773.1 607.6,772.1 C607.2,771.1 607.1,769.9 606.9,768.9 C606.6,767.8 606.6,766.7 606.2,765.8 C605.8,764.8 605.2,764.0 604.5,763.1 C603.8,762.3 602.7,761.6 601.9,760.7 C601.1,759.8 600.1,759.0 599.6,758.0 C599.0,757.0 598.8,755.9 598.9,754.7 C598.9,753.6 599.5,752.4 599.9,751.2 C600.3,750.1 601.1,749.0 601.4,747.9 C601.7,746.8 601.9,745.8 601.9,744.8 C601.8,743.8 601.3,742.7 601.0,741.7 C600.7,740.6 600.1,739.5 600.0,738.4 C599.8,737.3 599.8,736.1 600.0,735.1 C600.3,734.0 600.9,733.1 601.4,732.1 C601.9,731.1 602.7,730.3 603.1,729.3 C603.6,728.3 603.9,727.4 604.1,726.3 C604.4,725.3 604.3,724.1 604.5,723.0 C604.6,721.9 604.7,720.7 605.1,719.7 C605.5,718.7 606.1,717.8 606.9,717.0 C607.6,716.3 608.7,715.7 609.7,715.1 C610.6,714.5 611.6,714.0 612.4,713.3 C613.1,712.6 613.7,711.8 614.2,710.8 C614.6,709.8 614.8,708.5 615.2,707.4 C615.6,706.3 615.9,705.0 616.5,704.1 C617.2,703.3 618.1,702.5 619.1,702.1 C620.1,701.7 621.4,701.7 622.6,701.6 C623.7,701.6 625.1,701.8 626.2,701.7 C627.3,701.6 628.3,701.5 629.2,701.1 C630.1,700.6 630.8,699.9 631.6,699.3 C632.4,698.6 633.1,697.7 634.0,697.2 C634.9,696.7 635.8,696.3 636.8,696.1 C637.8,695.9 638.9,696.1 639.9,696.2 C640.9,696.2 642.0,696.5 643.0,696.5 C643.9,696.5 644.9,696.3 645.8,695.9 C646.8,695.6 647.7,694.9 648.7,694.5 C649.7,694.1 650.7,693.5 651.7,693.3 C652.7,693.2 653.8,693.3 654.8,693.6 C655.8,693.8 656.7,694.6 657.7,695.1 C658.6,695.6 659.5,696.3 660.4,696.5 C661.4,696.8 662.3,696.8 663.4,696.7 C664.5,696.5 665.7,696.0 666.9,695.7 C668.1,695.4 669.5,694.9 670.6,694.9 C671.8,694.9 672.9,695.1 673.8,695.7 C674.8,696.2 675.5,697.3 676.2,698.2 C676.9,699.1 677.4,700.3 678.1,701.2 C678.8,702.1 679.5,702.9 680.3,703.5 C681.1,704.2 682.2,704.5 683.1,705.0 C684.1,705.5 685.2,705.9 686.0,706.6 C686.9,707.2 687.6,708.0 688.2,708.9 C688.8,709.9 689.1,711.1 689.4,712.1 C689.8,713.2 689.9,714.4 690.4,715.4 C690.8,716.4 691.3,717.2 692.0,718.0 C692.6,718.9 693.5,719.5 694.3,720.3 C695.0,721.1 695.9,721.9 696.3,722.8 C696.8,723.8 697.0,724.9 697.0,726.0 C697.0,727.1 696.6,728.4 696.4,729.6 C696.2,730.7 695.8,731.9 695.8,732.9 C695.8,734.0 695.9,734.9 696.4,735.9 C696.8,736.8 697.7,737.7 698.4,738.6 C699.0,739.6 700.0,740.6 700.4,741.6 C700.9,742.6 701.1,743.7 701.1,744.8 Z" fill="#f7e5dc" fill-opacity="0.93" stroke="#e3c8bc" stroke-width="1.4" stroke-linejoin="round"/><circle cx="659.3" cy="708.0" r="3.8" fill="#faefea" stroke="#f5e2da" stroke-width="0.8"/><circle cx="676.9" cy="724.8" r="4.6" fill="#faefea" stroke="#f5e2da" stroke-width="0.8"/><circle cx="618.6" cy="721.0" r="3.2" fill="#faefea" stroke="#f5e2da" stroke-width="0.8"/><circle cx="614.8" cy="754.0" r="3.8" fill="#faefea" stroke="#f5e2da" stroke-width="0.8"/><circle cx="685.4" cy="749.7" r="2.7" fill="#faefea" stroke="#f5e2da" stroke-width="0.8"/><circle cx="663.1" cy="779.3" r="3.0" fill="#faefea" stroke="#f5e2da" stroke-width="0.8"/><circle cx="629.5" cy="742.4" r="1.7" fill="#faefea" stroke="#f5e2da" stroke-width="0.8"/><circle cx="663.5" cy="724.8" r="1.5" fill="#faefea" stroke="#f5e2da" stroke-width="0.8"/><circle cx="635.8" cy="719.5" r="1.3" fill="#f0dbd2"/><circle cx="652.1" cy="714.3" r="1.3" fill="#f0dbd2"/><circle cx="625.4" cy="731.5" r="1.3" fill="#f0dbd2"/><circle cx="682.2" cy="734.4" r="1.3" fill="#f0dbd2"/><circle cx="683.9" cy="762.0" r="1.3" fill="#f0dbd2"/><circle cx="672.1" cy="779.3" r="1.3" fill="#f0dbd2"/><circle cx="646.4" cy="774.5" r="1.3" fill="#f0dbd2"/><circle cx="633.5" cy="776.4" r="1.3" fill="#f0dbd2"/><circle cx="610.6" cy="745.5" r="1.3" fill="#f0dbd2"/><circle cx="630.7" cy="758.3" r="1.3" fill="#f0dbd2"/><circle cx="656.8" cy="786.0" r="1.3" fill="#f0dbd2"/><circle cx="657.4" cy="751.0" r="21.8" fill="#e2cdc4" stroke="#d9c3ba" stroke-width="1.2"/>
<path d="M762.5,814.8 C762.4,815.9 761.9,817.0 761.4,818.0 C761.0,819.0 760.2,820.0 759.8,821.0 C759.4,822.0 759.1,822.9 758.9,824.0 C758.8,825.0 759.0,826.1 759.0,827.1 C759.0,828.2 759.2,829.4 759.1,830.4 C758.9,831.5 758.6,832.5 758.0,833.4 C757.5,834.3 756.7,835.1 756.0,835.9 C755.3,836.7 754.4,837.4 753.9,838.3 C753.3,839.1 752.9,840.0 752.6,841.1 C752.3,842.1 752.3,843.3 752.0,844.4 C751.8,845.5 751.6,846.7 751.1,847.7 C750.5,848.6 749.8,849.4 748.9,850.0 C748.0,850.5 746.7,850.8 745.7,851.1 C744.6,851.5 743.4,851.6 742.5,852.1 C741.6,852.6 740.9,853.2 740.2,854.0 C739.6,854.9 739.3,856.1 738.8,857.2 C738.2,858.3 737.8,859.7 737.2,860.6 C736.5,861.6 735.7,862.4 734.8,863.0 C733.9,863.5 732.7,863.6 731.6,863.8 C730.6,864.0 729.4,863.9 728.4,864.0 C727.3,864.2 726.3,864.4 725.4,864.8 C724.4,865.2 723.5,865.9 722.5,866.5 C721.6,867.0 720.6,867.7 719.6,868.0 C718.5,868.2 717.4,868.3 716.4,868.2 C715.3,868.0 714.2,867.5 713.2,867.1 C712.1,866.8 711.1,866.2 710.1,866.0 C709.1,865.7 708.1,865.7 707.0,865.8 C706.0,865.9 704.9,866.4 703.8,866.5 C702.8,866.7 701.6,867.0 700.6,866.8 C699.6,866.6 698.6,866.2 697.7,865.4 C696.8,864.7 696.1,863.5 695.4,862.5 C694.6,861.5 694.1,860.2 693.4,859.4 C692.6,858.6 691.9,858.0 691.0,857.6 C690.1,857.2 689.0,857.2 688.0,857.1 C686.9,857.0 685.7,857.1 684.7,856.8 C683.7,856.5 682.7,856.1 681.9,855.5 C681.1,854.8 680.6,853.9 680.0,853.0 C679.4,852.1 679.0,851.1 678.4,850.3 C677.8,849.5 677.1,848.7 676.3,848.1 C675.5,847.5 674.4,847.1 673.5,846.5 C672.6,845.9 671.5,845.4 670.8,844.7 C670.0,844.0 669.4,843.1 669.0,842.1 C668.6,841.1 668.5,839.9 668.3,838.9 C668.0,837.8 668.0,836.7 667.6,835.8 C667.2,834.8 666.6,834.0 665.9,833.1 C665.2,832.3 664.1,831.6 663.3,830.7 C662.5,829.8 661.5,829.0 661.0,828.0 C660.4,827.0 660.2,825.9 660.3,824.7 C660.3,823.6 660.9,822.4 661.3,821.2 C661.7,820.1 662.5,819.0 662.8,817.9 C663.1,816.8 663.3,815.8 663.3,814.8 C663.2,813.8 662.7,812.7 662.4,811.7 C662.1,810.6 661.5,809.5 661.4,808.4 C661.2,807.3 661.2,806.1 661.4,805.1 C661.7,804.0 662.3,803.1 662.8,802.1 C663.3,801.1 664.1,800.3 664.5,799.3 C665.0,798.3 665.3,797.4 665.5,796.3 C665.8,795.3 665.7,794.1 665.9,793.0 C666.0,791.9 666.1,790.7 666.5,789.7 C666.9,788.7 667.5,787.8 668.3,787.0 C669.0,786.3 670.1,785.7 671.1,785.1 C672.0,784.5 673.0,784.0 673.8,783.3 C674.5,782.6 675.1,781.8 675.6,780.8 C676.0,779.8 676.2,778.5 676.6,777.4 C677.0,776.3 677.3,775.0 677.9,774.1 C678.6,773.3 679.5,772.5 680.5,772.1 C681.5,771.7 682.8,771.7 684.0,771.6 C685.1,771.6 686.5,771.8 687.6,771.7 C688.7,771.6 689.7,771.5 690.6,771.1 C691.5,770.6 692.2,769.9 693.0,769.3 C693.8,768.6 694.5,767.7 695.4,767.2 C696.3,766.7 697.2,766.3 698.2,766.1 C699.2,765.9 700.3,766.1 701.3,766.2 C702.3,766.2 703.4,766.5 704.4,766.5 C705.3,766.5 706.3,766.3 707.2,765.9 C708.2,765.6 709.1,764.9 710.1,764.5 C711.1,764.1 712.1,763.5 713.1,763.3 C714.1,763.2 715.2,763.3 716.2,763.6 C717.2,763.8 718.1,764.6 719.1,765.1 C720.0,765.6 720.9,766.3 721.8,766.5 C722.8,766.8 723.7,766.8 724.8,766.7 C725.9,766.5 727.1,766.0 728.3,765.7 C729.5,765.4 730.9,764.9 732.0,764.9 C733.2,764.9 734.3,765.1 735.2,765.7 C736.2,766.2 736.9,767.3 737.6,768.2 C738.3,769.1 738.8,770.3 739.5,771.2 C740.2,772.1 740.9,772.9 741.7,773.5 C742.5,774.2 743.6,774.5 744.5,775.0 C745.5,775.5 746.6,775.9 747.4,776.6 C748.3,777.2 749.0,778.0 749.6,778.9 C750.2,779.9 750.5,781.1 750.8,782.1 C751.2,783.2 751.3,784.4 751.8,785.4 C752.2,786.4 752.7,787.2 753.4,788.0 C754.0,788.9 754.9,789.5 755.7,790.3 C756.4,791.1 757.3,791.9 757.7,792.8 C758.2,793.8 758.4,794.9 758.4,796.0 C758.4,797.1 758.0,798.4 757.8,799.6 C757.6,800.7 757.2,801.9 757.2,802.9 C757.2,804.0 757.3,804.9 757.8,805.9 C758.2,806.8 759.1,807.7 759.8,808.6 C760.4,809.6 761.4,810.6 761.8,811.6 C762.3,812.6 762.5,813.7 762.5,814.8 Z" fill="#f7e5dc" fill-opacity="0.93" stroke="#e3c8bc" stroke-width="1.4" stroke-linejoin="round"/><circle cx="720.7" cy="778.0" r="3.8" fill="#faefea" stroke="#f5e2da" stroke-width="0.8"/><circle cx="738.3" cy="794.8" r="4.6" fill="#faefea" stroke="#f5e2da" stroke-width="0.8"/><circle cx="680.0" cy="791.0" r="3.2" fill="#faefea" stroke="#f5e2da" stroke-width="0.8"/><circle cx="676.2" cy="824.0" r="3.8" fill="#faefea" stroke="#f5e2da" stroke-width="0.8"/><circle cx="746.8" cy="819.7" r="2.7" fill="#faefea" stroke="#f5e2da" stroke-width="0.8"/><circle cx="724.5" cy="849.3" r="3.0" fill="#faefea" stroke="#f5e2da" stroke-width="0.8"/><circle cx="690.9" cy="812.4" r="1.7" fill="#faefea" stroke="#f5e2da" stroke-width="0.8"/><circle cx="724.9" cy="794.8" r="1.5" fill="#faefea" stroke="#f5e2da" stroke-width="0.8"/><circle cx="697.2" cy="789.5" r="1.3" fill="#f0dbd2"/><circle cx="713.5" cy="784.3" r="1.3" fill="#f0dbd2"/><circle cx="686.8" cy="801.5" r="1.3" fill="#f0dbd2"/><circle cx="743.6" cy="804.4" r="1.3" fill="#f0dbd2"/><circle cx="745.3" cy="832.0" r="1.3" fill="#f0dbd2"/><circle cx="733.5" cy="849.3" r="1.3" fill="#f0dbd2"/><circle cx="707.8" cy="844.5" r="1.3" fill="#f0dbd2"/><circle cx="694.9" cy="846.4" r="1.3" fill="#f0dbd2"/><circle cx="672.0" cy="815.5" r="1.3" fill="#f0dbd2"/><circle cx="692.1" cy="828.3" r="1.3" fill="#f0dbd2"/><circle cx="718.2" cy="856.0" r="1.3" fill="#f0dbd2"/><circle cx="718.8" cy="821.0" r="21.8" fill="#e2cdc4" stroke="#d9c3ba" stroke-width="1.2"/>
<path d="M872.7,812.3 C872.6,813.4 872.1,814.5 871.6,815.5 C871.2,816.5 870.4,817.5 870.0,818.5 C869.6,819.5 869.3,820.4 869.1,821.5 C869.0,822.5 869.2,823.6 869.2,824.6 C869.2,825.7 869.4,826.9 869.3,827.9 C869.1,829.0 868.8,830.0 868.2,830.9 C867.7,831.8 866.9,832.6 866.2,833.4 C865.5,834.2 864.6,834.9 864.1,835.8 C863.5,836.6 863.1,837.5 862.8,838.6 C862.5,839.6 862.5,840.8 862.2,841.9 C862.0,843.0 861.8,844.2 861.3,845.2 C860.7,846.1 860.0,846.9 859.1,847.5 C858.2,848.0 856.9,848.3 855.9,848.6 C854.8,849.0 853.6,849.1 852.7,849.6 C851.8,850.1 851.1,850.7 850.4,851.5 C849.8,852.4 849.5,853.6 849.0,854.7 C848.4,855.8 848.0,857.2 847.4,858.1 C846.7,859.1 845.9,859.9 845.0,860.5 C844.1,861.0 842.9,861.1 841.8,861.3 C840.8,861.5 839.6,861.4 838.6,861.5 C837.5,861.7 836.5,861.9 835.6,862.3 C834.6,862.7 833.7,863.4 832.7,864.0 C831.8,864.5 830.8,865.2 829.8,865.5 C828.7,865.7 827.6,865.8 826.6,865.7 C825.5,865.5 824.4,865.0 823.4,864.6 C822.3,864.3 821.3,863.7 820.3,863.5 C819.3,863.2 818.3,863.2 817.2,863.3 C816.2,863.4 815.1,863.9 814.0,864.0 C813.0,864.2 811.8,864.5 810.8,864.3 C809.8,864.1 808.8,863.7 807.9,862.9 C807.0,862.2 806.3,861.0 805.6,860.0 C804.8,859.0 804.3,857.7 803.6,856.9 C802.8,856.1 802.1,855.5 801.2,855.1 C800.3,854.7 799.2,854.7 798.2,854.6 C797.1,854.5 795.9,854.6 794.9,854.3 C793.9,854.0 792.9,853.6 792.1,853.0 C791.3,852.3 790.8,851.4 790.2,850.5 C789.6,849.6 789.2,848.6 788.6,847.8 C788.0,847.0 787.3,846.2 786.5,845.6 C785.7,845.0 784.6,844.6 783.7,844.0 C782.8,843.4 781.7,842.9 781.0,842.2 C780.2,841.5 779.6,840.6 779.2,839.6 C778.8,838.6 778.7,837.4 778.5,836.4 C778.2,835.3 778.2,834.2 777.8,833.3 C777.4,832.3 776.8,831.5 776.1,830.6 C775.4,829.8 774.3,829.1 773.5,828.2 C772.7,827.3 771.7,826.5 771.2,825.5 C770.6,824.5 770.4,823.4 770.5,822.2 C770.5,821.1 771.1,819.9 771.5,818.7 C771.9,817.6 772.7,816.5 773.0,815.4 C773.3,814.3 773.5,813.3 773.5,812.3 C773.4,811.3 772.9,810.2 772.6,809.2 C772.3,808.1 771.7,807.0 771.6,805.9 C771.4,804.8 771.4,803.6 771.6,802.6 C771.9,801.5 772.5,800.6 773.0,799.6 C773.5,798.6 774.3,797.8 774.7,796.8 C775.2,795.8 775.5,794.9 775.7,793.8 C776.0,792.8 775.9,791.6 776.1,790.5 C776.2,789.4 776.3,788.2 776.7,787.2 C777.1,786.2 777.7,785.3 778.5,784.5 C779.2,783.8 780.3,783.2 781.3,782.6 C782.2,782.0 783.2,781.5 784.0,780.8 C784.7,780.1 785.3,779.3 785.8,778.3 C786.2,777.3 786.4,776.0 786.8,774.9 C787.2,773.8 787.5,772.5 788.1,771.6 C788.8,770.8 789.7,770.0 790.7,769.6 C791.7,769.2 793.0,769.2 794.2,769.1 C795.3,769.1 796.7,769.3 797.8,769.2 C798.9,769.1 799.9,769.0 800.8,768.6 C801.7,768.1 802.4,767.4 803.2,766.8 C804.0,766.1 804.7,765.2 805.6,764.7 C806.5,764.2 807.4,763.8 808.4,763.6 C809.4,763.4 810.5,763.6 811.5,763.7 C812.5,763.7 813.6,764.0 814.6,764.0 C815.5,764.0 816.5,763.8 817.4,763.4 C818.4,763.1 819.3,762.4 820.3,762.0 C821.3,761.6 822.3,761.0 823.3,760.8 C824.3,760.7 825.4,760.8 826.4,761.1 C827.4,761.3 828.3,762.1 829.3,762.6 C830.2,763.1 831.1,763.8 832.0,764.0 C833.0,764.3 833.9,764.3 835.0,764.2 C836.1,764.0 837.3,763.5 838.5,763.2 C839.7,762.9 841.1,762.4 842.2,762.4 C843.4,762.4 844.5,762.6 845.4,763.2 C846.4,763.7 847.1,764.8 847.8,765.7 C848.5,766.6 849.0,767.8 849.7,768.7 C850.4,769.6 851.1,770.4 851.9,771.0 C852.7,771.7 853.8,772.0 854.7,772.5 C855.7,773.0 856.8,773.4 857.6,774.1 C858.5,774.7 859.2,775.5 859.8,776.4 C860.4,777.4 860.7,778.6 861.0,779.6 C861.4,780.7 861.5,781.9 862.0,782.9 C862.4,783.9 862.9,784.7 863.6,785.5 C864.2,786.4 865.1,787.0 865.9,787.8 C866.6,788.6 867.5,789.4 867.9,790.3 C868.4,791.3 868.6,792.4 868.6,793.5 C868.6,794.6 868.2,795.9 868.0,797.1 C867.8,798.2 867.4,799.4 867.4,800.4 C867.4,801.5 867.5,802.4 868.0,803.4 C868.4,804.3 869.3,805.2 870.0,806.1 C870.6,807.1 871.6,808.1 872.0,809.1 C872.5,810.1 872.7,811.2 872.7,812.3 Z" fill="#f7e5dc" fill-opacity="0.93" stroke="#e3c8bc" stroke-width="1.4" stroke-linejoin="round"/><circle cx="830.9" cy="775.5" r="3.8" fill="#faefea" stroke="#f5e2da" stroke-width="0.8"/><circle cx="848.5" cy="792.3" r="4.6" fill="#faefea" stroke="#f5e2da" stroke-width="0.8"/><circle cx="790.2" cy="788.5" r="3.2" fill="#faefea" stroke="#f5e2da" stroke-width="0.8"/><circle cx="786.4" cy="821.5" r="3.8" fill="#faefea" stroke="#f5e2da" stroke-width="0.8"/><circle cx="857.0" cy="817.2" r="2.7" fill="#faefea" stroke="#f5e2da" stroke-width="0.8"/><circle cx="834.7" cy="846.8" r="3.0" fill="#faefea" stroke="#f5e2da" stroke-width="0.8"/><circle cx="801.1" cy="809.9" r="1.7" fill="#faefea" stroke="#f5e2da" stroke-width="0.8"/><circle cx="835.1" cy="792.3" r="1.5" fill="#faefea" stroke="#f5e2da" stroke-width="0.8"/><circle cx="807.4" cy="787.0" r="1.3" fill="#f0dbd2"/><circle cx="823.7" cy="781.8" r="1.3" fill="#f0dbd2"/><circle cx="797.0" cy="799.0" r="1.3" fill="#f0dbd2"/><circle cx="853.8" cy="801.9" r="1.3" fill="#f0dbd2"/><circle cx="855.5" cy="829.5" r="1.3" fill="#f0dbd2"/><circle cx="843.7" cy="846.8" r="1.3" fill="#f0dbd2"/><circle cx="818.0" cy="842.0" r="1.3" fill="#f0dbd2"/><circle cx="805.1" cy="843.9" r="1.3" fill="#f0dbd2"/><circle cx="782.2" cy="813.0" r="1.3" fill="#f0dbd2"/><circle cx="802.3" cy="825.8" r="1.3" fill="#f0dbd2"/><circle cx="828.4" cy="853.5" r="1.3" fill="#f0dbd2"/><circle cx="829.0" cy="818.5" r="21.8" fill="#e2cdc4" stroke="#d9c3ba" stroke-width="1.2"/>
<circle cx="756.9" cy="721.2" r="43.6" fill="#d9ecd5" stroke="#6aad5f" stroke-width="1.2"/>
<circle cx="754.4" cy="715.2" r="26.2" fill="#b8d9b0" stroke="#a9d1a1" stroke-width="1.5"/>
<circle cx="597.6" cy="846.8" r="43.4" fill="#f0cacc" stroke="#c4646c" stroke-width="2.5"/><circle cx="597.6" cy="846.8" r="43.4" fill="none" stroke="#e6aeb1" stroke-width="0.6"/><circle cx="599.9" cy="848.9" r="22" fill="#e09494" stroke="#cf5a5c" stroke-width="1.5" stroke-dasharray="15.4 1.9"/>
<circle cx="677.9" cy="916.9" r="43.4" fill="#f0cacc" stroke="#c4646c" stroke-width="2.5"/><circle cx="677.9" cy="916.9" r="43.4" fill="none" stroke="#e6aeb1" stroke-width="0.6"/><circle cx="680.0" cy="918.0" r="22" fill="#e09494" stroke="#cf5a5c" stroke-width="1.5" stroke-dasharray="15.4 1.9"/>
<circle cx="772.7" cy="905.6" r="43.4" fill="#f0cacc" stroke="#c4646c" stroke-width="2.5"/><circle cx="772.7" cy="905.6" r="43.4" fill="none" stroke="#e6aeb1" stroke-width="0.6"/><circle cx="774.8" cy="907.0" r="22" fill="#e09494" stroke="#cf5a5c" stroke-width="1.5" stroke-dasharray="15.4 1.9"/>
<text x="177.9" y="92.0" font-size="51.3" fill="#c40e20" text-anchor="start" >Macrophages</text>
<text x="918.0" y="92.1" font-size="51.3" fill="#c40e20" text-anchor="start" >Glioblastoma stem ceils</text>
<text x="677.5" y="103.7" font-size="41.2" fill="#000" text-anchor="start" >lactate</text>
<text x="318.7" y="499.9" font-size="41.2" fill="#000" text-anchor="start" >lactate</text>
<text x="211.8" y="369.9" font-size="36.0" fill="#000" text-anchor="start" >Warburg effect</text>
<text x="591.5" y="450.8" font-size="35.6" fill="#000" text-anchor="start" >MCT4</text>
<text x="759.0" y="454.8" font-size="35.6" fill="#000" text-anchor="start" >MCT1</text>
<text x="1065.3" y="186.7" font-size="30.5" fill="#000" text-anchor="start" >dsDNA</text>
<text x="1067.4" y="282.2" font-size="27.0" fill="#000" text-anchor="start" >NHEJ</text>
<text x="1237.0" y="296.3" font-size="30.8" fill="#000" text-anchor="start" >cGAS</text>
<text x="1240.9" y="387.4" font-size="30.8" fill="#000" text-anchor="start" >IFN signaling</text>
<text x="1049.5" y="489.7" font-size="30.7" fill="#000" text-anchor="start" >Lactylation</text>
<text x="1052.1" y="356.4" font-size="29.7" fill="#000" text-anchor="start" >Lac</text>
<text x="1079.3" y="429.4" font-size="40.0" fill="#fff" text-anchor="start" >KU70</text>
<text x="1007.6" y="628.0" font-size="35.8" fill="#000" text-anchor="start" >TYPE I interferons</text>
<text x="573.1" y="655.3" font-size="35.6" fill="#108b33" text-anchor="start" >CD8</text>
<path d="M645.8,636.9 H656.1 M650.95,631.7 V642.1" stroke="#108b33" stroke-width="1.5" fill="none"/>
<text x="663.2" y="655.3" font-size="35.6" fill="#108b33" text-anchor="start" >T cells</text>
<text x="524.2" y="1006.9" font-size="41.0" fill="#000" text-anchor="start" >Immunosuppressive TME</text>
</svg>
</body></html>
